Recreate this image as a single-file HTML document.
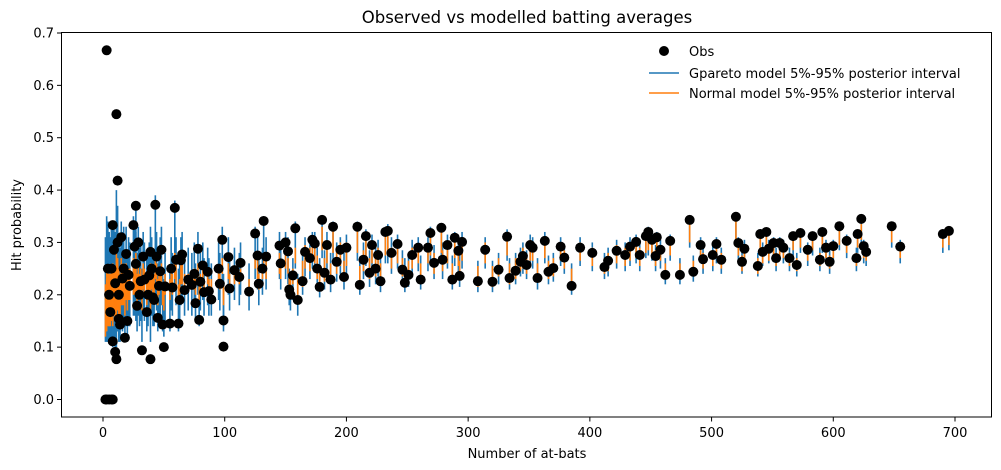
<!DOCTYPE html>
<html><head><meta charset="utf-8"><style>
html,body{margin:0;padding:0;background:#fff;}
svg{display:block;font-family:"DejaVu Sans","Liberation Sans",sans-serif;}
</style></head><body>
<svg id="chart" width="1001" height="470" viewBox="0 0 1001 470" xmlns="http://www.w3.org/2000/svg">
<rect x="0" y="0" width="1001" height="470" fill="#fff"/>
<text x="527" y="23" font-size="16.5" text-anchor="middle" fill="#000">Observed vs modelled batting averages</text>
<g id="marks"></g>
<rect x="61.5" y="32.5" width="930" height="384.5" fill="none" stroke="#000" stroke-width="1"/>
<g id="xticks"></g>
<g id="yticks"></g>
<text x="527" y="458" font-size="13" text-anchor="middle">Number of at-bats</text>
<text x="21" y="225" font-size="13" text-anchor="middle" transform="rotate(-90 21 225)">Hit probability</text>
<g>
<circle cx="664" cy="51" r="5" fill="#000"/>
<text x="689" y="56" font-size="13">Obs</text>
<line x1="649" y1="73" x2="679" y2="73" stroke="#1f77b4" stroke-width="1.5"/>
<text x="689" y="78" font-size="13">Gpareto model 5%-95% posterior interval</text>
<line x1="649" y1="93" x2="679" y2="93" stroke="#ff7f0e" stroke-width="1.5"/>
<text x="689" y="98" font-size="13">Normal model 5%-95% posterior interval</text>
</g>
</svg>
<script>
const xTicks=[0,100,200,300,400,500,600,700];
const yTicks=[0.0,0.1,0.2,0.3,0.4,0.5,0.6,0.7];
const ab=[2,3,5,7,8,3,11,12,4,5,6,7,8,8,9,10,11,10,12,13,14,15,13,16,17,18,19,20,21,22,25,26,27,27,29,28,30,31,32,33,34,36,37,38,39,39,40,41,42,43,44,45,46,47,48,49,50,51,55,56,57,59,60,62,63,64,65,67,70,73,75,76,78,79,80,82,83,86,87,89,95,96,98,99,99,103,104,108,112,113,120,125,127,128,131,132,134,145,146,150,152,153,154,156,158,160,
166,164,170,172,174,176,178,180,182,184,187,189,192,195,198,200,209,211,214,216,219,221,224,226,228,232,234,237,242,246,248,251,254,259,261,267,269,272,278,279,283,287,289,292,293,295,
308,314,320,325,332,334,339,343,345,348,351,353,357,363,366,370,376,379,385,392,402,412,415,422,429,433,438,441,446,448,451,454,455,458,462,466,474,482,485,491,493,501,504,508,520,522,525,527,538,540,542,545,547,551,553,556,559,564,567,570,573,579,583,589,591,594,597,600,605,611,619,620,623,625,627,648,655,690,695];
const obs=[0,0,0,0,0,.667,.545,.418,.25,.2,.167,.25,.333,.111,.286,.091,.077,.222,.3,.154,.143,.31,.2,.231,.25,.118,.278,.15,.238,.217,.333,.292,.37,.259,.3,.179,.2,.226,.094,.273,.229,.167,.2,.237,.077,.282,.25,.195,.19,.372,.273,.156,.217,.245,.286,.143,.1,.216,.145,.25,.214,.366,.267,.145,.19,.266,.277,.209,.229,.219,.24,.184,.288,.152,.225,.256,.205,.244,.207,.191,.25,.221,.305,.151,.101,.272,.212,.247,.234,.261,.206,.317,.275,.221,.25,.341,.273,.294,.26,.3,.283,.21,.2,.237,.327,.19,
.282,.226,.27,.305,.298,.25,.215,.343,.242,.295,.229,.33,.263,.286,.234,.29,.33,.219,.267,.312,.242,.295,.25,.276,.226,.32,.322,.28,.297,.248,.223,.238,.276,.29,.229,.29,.318,.261,.328,.267,.295,.229,.309,.284,.236,.301,
.226,.286,.225,.248,.311,.232,.246,.263,.274,.257,.295,.29,.232,.303,.244,.251,.292,.271,.217,.29,.28,.253,.265,.284,.276,.292,.301,.276,.312,.32,.305,.274,.31,.286,.238,.303,.238,.343,.244,.295,.268,.276,.297,.267,.349,.299,.263,.288,.255,.316,.282,.32,.288,.299,.27,.299,.29,.27,.312,.257,.318,.286,.312,.267,.32,.29,.263,.293,.331,.303,.27,.316,.345,.293,.282,.331,.292,.316,.322];
const gInt=[[.11,.31],[.11,.31],[.11,.32],[.11,.33],[.11,.32],[.12,.35],[.13,.40],[.13,.37],[.11,.34],[.11,.32],[.11,.31],[.12,.33],[.12,.34],[.10,.29],[.12,.33],[.10,.28],[.10,.27],[.12,.32],[.13,.34],[.11,.29],[.11,.29],[.14,.34],[.12,.31],[.13,.32],[.14,.33],[.11,.27],[.14,.33],[.12,.28],[.14,.31],[.14,.30],[.16,.35],[.16,.33],[.17,.37],[.15,.32],[.16,.33],[.13,.28],[.14,.29],[.15,.30],[.11,.25],[.16,.32],[.15,.30],[.13,.27],[.14,.29],[.16,.30],[.11,.24],[.17,.33],[.16,.31],[.14,.28],[.14,.28],[.20,.39],[.17,.32],[.13,.26],[.15,.29],[.16,.31],[.18,.33],[.13,.25],[.12,.23],[.15,.28],[.13,.25],[.17,.31],[.16,.28],[.21,.38],[.18,.31],[.13,.25],[.15,.27],[.18,.31],[.19,.32],[.16,.27],[.17,.29],[.16,.28],[.18,.30],[.15,.26],[.20,.32],[.14,.24],[.17,.28],[.19,.30],[.16,.27],[.18,.29],[.16,.27],[.16,.26],[.19,.30],[.17,.28],[.22,.33],[.14,.24],[.13,.22],[.20,.31],[.17,.27],[.19,.29],[.18,.28],[.20,.30],[.17,.26],[.23,.33],[.21,.31],[.18,.27],[.20,.29],[.24,.35],[.21,.31],[.23,.32],[.21,.30],[.23,.32],[.22,.31],[.18,.25],[.17,.24],[.19,.27],[.25,.34],[.16,.24],
[.235,.31],[.20,.28],[.23,.30],[.25,.32],[.245,.32],[.215,.29],[.195,.27],[.27,.345],[.21,.285],[.245,.32],[.205,.28],[.265,.34],[.225,.30],[.24,.31],[.21,.28],[.24,.315],[.265,.34],[.20,.27],[.23,.30],[.255,.325],[.215,.285],[.245,.315],[.22,.29],[.235,.305],[.205,.275],[.26,.33],[.26,.335],[.24,.31],[.25,.315],[.22,.285],[.205,.27],[.215,.28],[.235,.305],[.245,.31],[.21,.275],[.245,.31],[.26,.33],[.23,.295],[.265,.335],[.23,.30],[.25,.315],[.21,.275],[.255,.32],[.24,.305],[.215,.28],[.25,.32],
[.205,.265],[.25,.31],[.205,.265],[.22,.28],[.265,.325],[.21,.27],[.22,.28],[.235,.29],[.24,.30],[.23,.285],[.255,.315],[.25,.31],[.21,.27],[.26,.32],[.22,.275],[.225,.28],[.255,.31],[.24,.295],[.20,.26],[.255,.31],[.245,.30],[.23,.28],[.235,.29],[.25,.305],[.245,.30],[.255,.31],[.26,.315],[.245,.30],[.27,.325],[.275,.33],[.265,.32],[.245,.295],[.265,.32],[.25,.305],[.22,.27],[.265,.315],[.22,.27],[.29,.345],[.225,.275],[.26,.31],[.24,.29],[.245,.295],[.26,.31],[.24,.29],[.295,.35],[.265,.31],[.24,.285],[.255,.305],[.235,.28],[.275,.325],[.255,.30],[.28,.325],[.26,.305],[.265,.31],[.245,.29],[.265,.31],[.26,.305],[.245,.29],[.275,.32],[.235,.28],[.28,.325],[.255,.30],[.275,.32],[.245,.29],[.28,.325],[.26,.305],[.24,.285],[.26,.305],[.285,.33],[.27,.315],[.245,.29],[.28,.325],[.295,.345],[.26,.305],[.255,.30],[.29,.335],[.26,.305],[.28,.325],[.285,.33]];
const nInt=[[.12,.22],[.13,.23],[.14,.23],[.15,.24],[.15,.24],[.15,.25],[.18,.28],[.18,.27],[.14,.25],[.14,.24],[.14,.24],[.15,.25],[.16,.26],[.14,.23],[.16,.25],[.15,.23],[.15,.22],[.16,.25],[.17,.26],[.16,.24],[.16,.24],[.18,.27],[.17,.25],[.18,.25],[.18,.26],[.16,.23],[.19,.26],[.17,.23],[.19,.25],[.19,.25],[.20,.27],[.20,.26],[.21,.28],[.20,.26],[.21,.26],[.18,.24],[.19,.24],[.20,.25],[.17,.22],[.21,.26],[.20,.25],[.18,.23],[.19,.24],[.20,.25],[.17,.21],[.21,.26],[.21,.25],[.19,.24],[.19,.24],[.23,.28],[.21,.26],[.18,.23],[.20,.24],[.21,.25],[.22,.26],[.18,.22],[.17,.21],[.20,.24],[.19,.23],[.21,.25],[.20,.24],[.23,.28],[.22,.26],[.19,.22],[.20,.23],[.22,.26],[.22,.26],[.20,.24],[.21,.24],[.21,.24],[.21,.25],[.20,.23],[.23,.26],[.19,.22],[.21,.24],[.22,.25],[.20,.23],[.22,.25],[.21,.23],[.20,.23],[.22,.25],[.21,.24],[.24,.27],[.19,.22],[.18,.21],[.23,.26],[.21,.24],[.22,.25],[.22,.24],[.23,.25],[.21,.23],[.25,.28],[.23,.27],[.21,.24],[.23,.25],[.26,.28],[.23,.27],[.24,.28],[.23,.26],[.25,.28],[.24,.27],[.21,.24],[.21,.23],[.22,.25],[.26,.29],[.20,.23],
[.25,.295],[.215,.265],[.245,.29],[.265,.31],[.26,.305],[.23,.275],[.21,.255],[.285,.33],[.225,.27],[.26,.30],[.22,.26],[.28,.325],[.24,.285],[.255,.30],[.225,.265],[.255,.30],[.28,.325],[.215,.255],[.245,.285],[.27,.31],[.23,.27],[.26,.30],[.235,.275],[.25,.29],[.22,.26],[.275,.315],[.275,.32],[.25,.29],[.26,.30],[.235,.27],[.22,.255],[.23,.265],[.25,.29],[.26,.295],[.225,.26],[.26,.295],[.275,.315],[.24,.28],[.28,.32],[.245,.285],[.26,.30],[.225,.26],[.27,.31],[.255,.29],[.23,.265],[.265,.305],
[.215,.255],[.26,.30],[.215,.255],[.235,.27],[.275,.315],[.22,.26],[.23,.27],[.245,.28],[.25,.29],[.24,.275],[.265,.305],[.265,.30],[.225,.26],[.27,.31],[.23,.265],[.235,.27],[.265,.30],[.25,.285],[.215,.25],[.265,.30],[.255,.29],[.24,.27],[.245,.28],[.26,.295],[.255,.29],[.265,.30],[.27,.305],[.255,.29],[.28,.315],[.285,.32],[.275,.31],[.255,.285],[.28,.31],[.265,.295],[.23,.26],[.275,.305],[.23,.26],[.30,.335],[.235,.265],[.27,.30],[.25,.28],[.255,.285],[.27,.30],[.25,.28],[.305,.34],[.275,.30],[.245,.275],[.265,.295],[.24,.27],[.285,.315],[.26,.29],[.29,.315],[.265,.295],[.275,.30],[.255,.28],[.275,.30],[.27,.295],[.255,.28],[.285,.31],[.245,.27],[.29,.315],[.265,.29],[.285,.31],[.255,.28],[.29,.315],[.27,.295],[.25,.275],[.27,.295],[.295,.325],[.28,.30],[.255,.28],[.29,.315],[.305,.335],[.27,.295],[.265,.29],[.30,.325],[.27,.295],[.29,.31],[.295,.315]];

const NS='http://www.w3.org/2000/svg';
const X0=103, XS=(955-103)/700, Y0=399.5, YS=(399.5-33)/0.7;
function sx(v){return X0+v*XS;}
function sy(v){return Y0-v*YS;}
function mk(tag,attrs,parent){const e=document.createElementNS(NS,tag);for(const k in attrs)e.setAttribute(k,attrs[k]);parent.appendChild(e);return e;}
const marks=document.getElementById('marks');
const gG=mk('g',{},marks);


const gN=mk('g',{},marks);


const gO=mk('g',{},marks);


for(let i=0;i<ab.length;i++){
  const a=mk('line',{x1:sx(ab[i]),x2:sx(ab[i]),y1:sy(gInt[i][0]),y2:sy(gInt[i][1]),stroke:'#1f77b4','stroke-width':1.6},gG);
  
  
}
for(let i=0;i<ab.length;i++){
  const b=mk('line',{x1:sx(ab[i]),x2:sx(ab[i]),y1:sy(nInt[i][0]),y2:sy(nInt[i][1]),stroke:'#ff7f0e','stroke-width':1.6},gN);
  
  
}
for(let i=0;i<ab.length;i++){
  const c=mk('circle',{cx:sx(ab[i]),cy:sy(obs[i]),r:5,fill:'#000'},gO);
  
  
}
const xt=document.getElementById('xticks');
xTicks.forEach(v=>{
  const l=mk('line',{x1:sx(v),x2:sx(v),y1:417,y2:421.5,stroke:'#000','stroke-width':1},xt);
  
  
  const t=mk('text',{x:sx(v),y:437,'font-size':13,'text-anchor':'middle'},xt);
  
  
  t.textContent=String(v);
});
const yt=document.getElementById('yticks');
yTicks.forEach(v=>{
  const l=mk('line',{x1:57,x2:61.5,y1:sy(v),y2:sy(v),stroke:'#000','stroke-width':1},yt);
  
  
  const t=mk('text',{x:54,y:sy(v)+4.5,'font-size':13,'text-anchor':'end'},yt);
  
  
  t.textContent=v.toFixed(1);
});
</script>
</body></html>
